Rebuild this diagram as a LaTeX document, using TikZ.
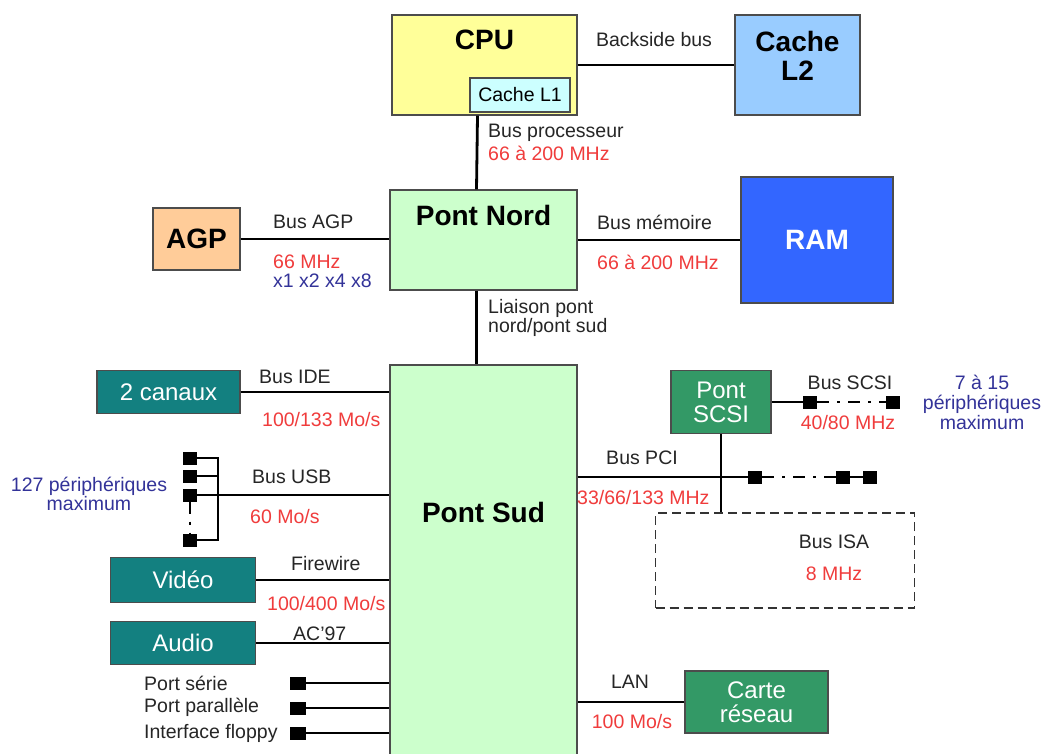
\documentclass[tikz,border=0pt]{standalone}
\usepackage{fontspec}
\setmainfont{Liberation Sans}
\usetikzlibrary{positioning}

\definecolor{cpuyellow}{HTML}{FFFF99}
\definecolor{lonecyan}{HTML}{CCFFFF}
\definecolor{ltwoblue}{HTML}{99CCFF}
\definecolor{bridgegreen}{HTML}{CCFFCC}
\definecolor{agporange}{HTML}{FFCC99}
\definecolor{ramblue}{HTML}{3366FF}
\definecolor{devteal}{HTML}{138080}
\definecolor{cardgreen}{HTML}{339966}
\definecolor{ratered}{HTML}{F03C3C}
\definecolor{noteblue}{HTML}{333399}

\tikzset{
  box/.style={draw=black!70, line width=1.3pt, inner sep=0pt, align=center,
    font=\fontsize{24}{24}\selectfont},
  title/.style={font=\fontsize{28}{29}\selectfont\bfseries},
  lbl/.style={font=\fontsize{19.5}{20}\selectfont, text=black!85, inner sep=0pt},
  rate/.style={lbl, text=ratered},
  note/.style={lbl, text=noteblue, align=center},
  bus/.style={line width=2.8pt},
  dashdot/.style={dash pattern=on 12pt off 8pt on 3pt off 8pt},
  plug/.style={fill=black, minimum width=14pt, minimum height=13pt, inner sep=0pt},
}

\begin{document}
\begin{tikzpicture}[x=1pt, y=-1pt]
    \clip (0,0) rectangle (1048,753);
    \fill[white] (0,0) rectangle (1048,753);

    % Processor and caches
    \node[box, fill=cpuyellow, minimum width=185pt, minimum height=100pt,
      label={[title, yshift=25pt]center:CPU}] (cpu) at (484.5,65) {};
    \node[box, fill=lonecyan, minimum width=100pt, minimum height=34pt,
      font=\fontsize{19.5}{20}\selectfont] (lone) at (520,95) {Cache L1};
    \node[box, fill=ltwoblue, minimum width=125pt, minimum height=100pt,
      label={[title, align=center, yshift=9pt]center:Cache\\L2}] (ltwo) at (797.5,65) {};

    % North bridge
    \node[box, fill=bridgegreen, minimum width=187pt, minimum height=100pt,
      label={[title, yshift=25pt]center:Pont Nord}] (nord) at (483.5,240) {};
    \node[box, title, fill=agporange, minimum width=87pt, minimum height=62pt] (agp) at (196.5,239) {AGP};
    \node[box, title, text=white, fill=ramblue, minimum width=152pt, minimum height=126pt] (ram) at (817,240) {RAM};

    % South bridge and devices
    \node[box, fill=bridgegreen, minimum width=187pt, minimum height=400pt,
      label={[title, yshift=53pt]center:Pont Sud}] (sud) at (483.5,565) {};
    \node[box, text=white, fill=devteal, minimum width=143pt, minimum height=43pt] (ide) at (168.5,392) {2 canaux};
    \node[box, text=white, fill=devteal, minimum width=145pt, minimum height=45pt] (video) at (183,580) {Vidéo};
    \node[box, text=white, fill=devteal, minimum width=145pt, minimum height=43pt] (audio) at (183,643) {Audio};
    \node[box, text=white, fill=cardgreen, minimum width=100pt, minimum height=63pt] (scsi) at (721,402) {Pont\\SCSI};
    \node[box, text=white, fill=cardgreen, minimum width=143pt, minimum height=62pt] (lan) at (756.5,702) {Carte\\réseau};
    \node[draw=black!80, line width=1.3pt, dash pattern=on 9pt off 5pt,
      minimum width=259pt, minimum height=95pt] (isa) at (785,560.5) {};

    % Connectors
    \draw[bus] (cpu) -- (ltwo);
    \draw[bus] ([xshift=-7pt]cpu.south) -- ([xshift=-7pt]nord.north);
    \draw[bus] (agp) -- (agp -| nord.west);
    \draw[bus] (nord.east |- ram) -- (ram);
    \draw[bus] ([xshift=-7pt]nord.south) -- ([xshift=-7pt]sud.north);
    \draw[bus] (ide) -- (ide -| sud.west);
    \draw[bus] (video) -- (video -| sud.west);
    \draw[bus] (audio) -- (audio -| sud.west);
    \draw[bus] (lan) -- (lan -| sud.east);

    % USB chain
    \node[plug] (usba) at (190,458) {};
    \node[plug] (usbb) at (190,476) {};
    \node[plug] (usbc) at (190,495) {};
    \node[plug] (usbd) at (190,540) {};
    \coordinate (usbbar) at (218,458);
    \draw[line width=2.2pt] (usba) -- (usba -| usbbar) -- (usbd -| usbbar) -- (usbd);
    \draw[line width=2.2pt] (usbb) -- (usbb -| usbbar);
    \draw[bus] (usbc) -- (usbc -| sud.west);
    \draw[line width=1.5pt, dashdot] (usbc) -- (usbd);

    % PCI and SCSI
    \node[plug] (pcia) at (755,477) {};
    \node[plug] (pcib) at (843,477) {};
    \node[plug] (pcic) at (870,477) {};
    \draw[bus] (pcia -| sud.east) -- (pcia);
    \draw[bus, dashdot] (pcia) -- (pcib);
    \draw[bus] (pcib) -- (pcic);
    \node[plug] (scsia) at (810,402) {};
    \node[plug] (scsib) at (893,402) {};
    \draw[bus] (scsi) -- (scsia);
    \draw[bus, dashdot] (scsia) -- (scsib);
    \draw[bus] (scsi.south) -- (scsi.south |- isa.north);

    % Ports
    \node[plug, minimum width=16pt] (serie) at (298,683) {};
    \node[plug, minimum width=16pt] (para) at (298,708) {};
    \node[plug, minimum width=16pt] (floppy) at (298,733) {};
    \draw[line width=1.4pt] (serie) -- (serie -| sud.west);
    \draw[line width=1.4pt] (para) -- (para -| sud.west);
    \draw[line width=1.4pt] (floppy) -- (floppy -| sud.west);

    % Labels
    \node[lbl] at (654,40) {Backside bus};
    \node[lbl, anchor=west] at (488,133) {Bus processeur};
    \node[rate, anchor=west] at (488,153) {66 à 200 MHz};
    \node[lbl, anchor=west] at (273,222) {Bus AGP};
    \node[rate, anchor=west] at (273,262) {66 MHz};
    \node[note, anchor=west] at (273,281) {x1 x2 x4 x8};
    \node[lbl, anchor=west] at (597,222) {Bus mémoire};
    \node[rate, anchor=west] at (597,262) {66 à 200 MHz};
    \node[lbl, anchor=west] at (488,308) {Liaison pont};
    \node[lbl, anchor=west] at (488,327) {nord/pont sud};
    \node[lbl, anchor=west] at (259,377) {Bus IDE};
    \node[rate, anchor=west] at (262,420) {100/133 Mo/s};
    \node[note, font=\fontsize{19.5}{18}\selectfont] at (89,494) {127 périphériques\\maximum};
    \node[lbl, anchor=west] at (252,477) {Bus USB};
    \node[rate, anchor=west] at (250,517) {60 Mo/s};
    \node[lbl, anchor=west] at (291,564) {Firewire};
    \node[rate, anchor=west] at (267,604) {100/400 Mo/s};
    \node[lbl, anchor=west] at (293,634) {AC'97};
    \node[lbl, anchor=west] at (144,683) {Port série};
    \node[lbl, anchor=west] at (144,707) {Port parallèle};
    \node[lbl, anchor=west] at (144,733) {Interface floppy};
    \node[lbl] at (642,458) {Bus PCI};
    \node[rate, anchor=west] at (577,498) {33/66/133 MHz};
    \node[lbl] at (850,383) {Bus SCSI};
    \node[rate] at (848,423) {40/80 MHz};
    \node[note] at (982,402) {7 à 15\\périphériques\\maximum};
    \node[lbl] at (834,542) {Bus ISA};
    \node[rate] at (834,574) {8 MHz};
    \node[lbl] at (630,682) {LAN};
    \node[rate] at (632,722) {100 Mo/s};
\end{tikzpicture}
\end{document}
